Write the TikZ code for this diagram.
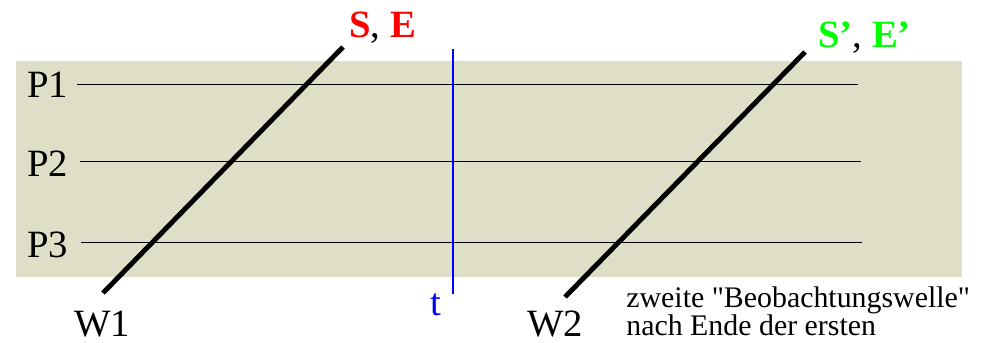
\documentclass[tikz,border=0pt]{standalone}
\usepackage{fontspec}
\setmainfont{Liberation Serif}
\newfontfamily\plainserif{Liberation Serif}
\definecolor{bgtan}{RGB}{223,223,199}
\definecolor{brightgreen}{RGB}{0,255,0}
\begin{document}
\begin{tikzpicture}[x=0.02cm,y=-0.02cm,
  lbl/.style={inner sep=0pt,anchor=base west,font=\fontsize{22}{24}\selectfont},
  wave/.style={line width=2.8pt,black},
  track/.style={line width=0.5pt,black}]
\useasboundingbox (0,0) rectangle (993,342);
\fill[bgtan] (16,61) rectangle (962,277);
% process labels
\node[lbl] (p1) at (27,97) {P1};
\node[lbl] (p2) at (27,176) {P2};
\node[lbl] (p3) at (27,257) {P3};
\coordinate (p1a) at (77,84);  \coordinate (p1b) at (858,84);
\coordinate (p2a) at (80,161); \coordinate (p2b) at (861,161);
\coordinate (p3a) at (81,242); \coordinate (p3b) at (862,242);
\draw[track] (p1a) -- (p1b);
\draw[track] (p2a) -- (p2b);
\draw[track] (p3a) -- (p3b);
% waves
\coordinate (w1a) at (103,293); \coordinate (w1b) at (343,47);
\coordinate (w2a) at (565,297); \coordinate (w2b) at (805,52);
\draw[wave] (w1a) -- (w1b);
\draw[wave] (w2a) -- (w2b);
% time line
\coordinate (ta) at (453,49); \coordinate (tb) at (453,294);
\draw[blue,line width=1.1pt] (ta) -- (tb);
% labels
\node[lbl] (se) at (349,37) {\textbf{\textcolor{red}{S}}, \textbf{\textcolor{red}{E}}};
\node[lbl] (se2) at (818,47) {\textbf{\textcolor{brightgreen}{S’}}, \textbf{\textcolor{brightgreen}{E’}}};
\node[lbl] (w1) at (74,336) {W1};
\node[lbl] (w2) at (527,336) {W2};
\node[lbl,text=blue] (t) at (430,315) {t};
\node[inner sep=0pt,anchor=base west,align=left,font=\plainserif\fontsize{17}{15.5}\selectfont] (note) at (626,335) {zweite "Beobachtungswelle"\\nach Ende der ersten};
\end{tikzpicture}
\end{document}
